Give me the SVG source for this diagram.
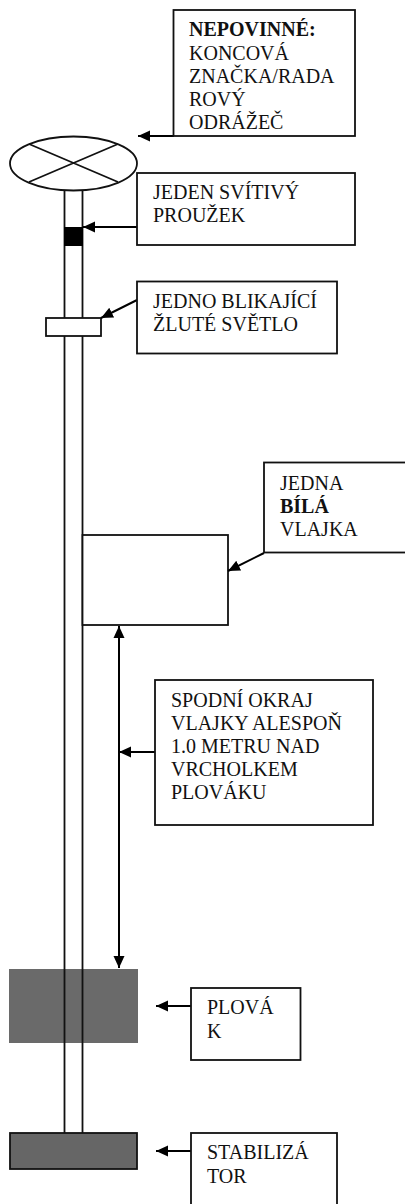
<svg xmlns="http://www.w3.org/2000/svg" width="405" height="1204" viewBox="0 0 405 1204">
<style>
.b{fill:#fff;stroke:#111;stroke-width:1.8}
.l{fill:none;stroke:#111;stroke-width:1.8}
.c{fill:none;stroke:#000;stroke-width:2}
text{font-family:"Liberation Serif","Times New Roman",serif;font-size:20px;fill:#111}
.s{font-weight:bold}
</style>
<defs>
<marker id="a" markerUnits="userSpaceOnUse" markerWidth="13" markerHeight="13" refX="12" refY="6" orient="auto-start-reverse"><path d="M0 0.500L12 6L0 11.500z" fill="#000"/></marker>
</defs>
<rect width="405" height="1204" fill="#fff"/>
<g id="float"><rect x="9" y="969" width="129" height="74" fill="#6a6a6a"/></g>
<g id="pole"><path class="l" d="M64.500 190V1133M82.500 190V1133"/></g>
<g id="top-mark"><ellipse class="b" cx="73.500" cy="163.500" rx="63.500" ry="27"/><path class="l" d="M29 144L118 182M29 182L118 144"/></g>
<g id="strip"><rect x="64" y="227" width="19" height="19" fill="#000"/></g>
<g id="light"><rect class="b" x="46" y="318" width="55" height="18"/></g>
<g id="flag"><rect class="b" x="82.500" y="535" width="145.500" height="90"/></g>
<g id="stabilizer"><rect x="10" y="1133" width="127" height="36" fill="#666" stroke="#111" stroke-width="1.800"/></g>
<g id="connectors">
<path class="c" d="M174 136H138" marker-end="url(#a)"/>
<path class="c" d="M137 227H83" marker-end="url(#a)"/>
<path class="c" d="M137 300L101 318" marker-end="url(#a)"/>
<path class="c" d="M264 553L228 571" marker-end="url(#a)"/>
<path class="c" d="M119 626V968" marker-start="url(#a)" marker-end="url(#a)"/>
<path class="c" d="M155 752H119" marker-end="url(#a)"/>
<path class="c" d="M191 1006H156" marker-end="url(#a)"/>
<path class="c" d="M191 1151H156" marker-end="url(#a)"/>
</g>
<g id="note-optional"><rect class="b" x="173.500" y="10" width="181.500" height="126"/>
<text x="189" y="36" class="s">NEPOVINNÉ:</text><text x="189" y="59.500">KONCOVÁ</text><text x="189" y="82.500">ZNAČKA/RADA</text><text x="189" y="105.500">ROVÝ</text><text x="189" y="128.500">ODRÁŽEČ</text></g>
<g id="note-strip"><rect class="b" x="137" y="173" width="218" height="72"/>
<text x="153" y="199">JEDEN SVÍTIVÝ</text><text x="153" y="222">PROUŽEK</text></g>
<g id="note-light"><rect class="b" x="137" y="281.500" width="200" height="72"/>
<text x="153" y="308">JEDNO BLIKAJÍCÍ</text><text x="153" y="331">ŽLUTÉ SVĚTLO</text></g>
<g id="note-flag"><rect class="b" x="264" y="462.500" width="145" height="90"/>
<text x="280" y="489.500">JEDNA</text><text x="280" y="513" class="s">BÍLÁ</text><text x="280" y="536">VLAJKA</text></g>
<g id="note-height"><rect class="b" x="155" y="680" width="218" height="145"/>
<text x="171" y="707">SPODNÍ OKRAJ</text><text x="171" y="730">VLAJKY ALESPOŇ</text><text x="171" y="753">1.0 METRU NAD</text><text x="171" y="776">VRCHOLKEM</text><text x="171" y="799">PLOVÁKU</text></g>
<g id="note-float"><rect class="b" x="191" y="988" width="109.500" height="72"/>
<text x="207" y="1014">PLOVÁ</text><text x="207" y="1038">K</text></g>
<g id="note-stabilizer"><rect class="b" x="191" y="1133" width="146" height="80"/>
<text x="207" y="1159">STABILIZÁ</text><text x="207" y="1183">TOR</text></g>
</svg>
